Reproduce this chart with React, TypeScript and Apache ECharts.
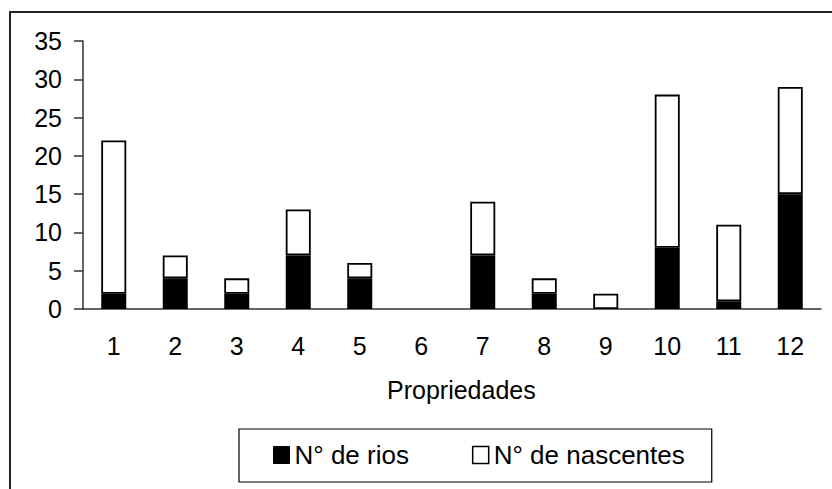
import React, { useEffect, useRef } from "react";
import * as echarts from "echarts";

const categories = ["1", "2", "3", "4", "5", "6", "7", "8", "9", "10", "11", "12"];
const rios = [2, 4, 2, 7, 4, 0, 7, 2, 0, 8, 1, 15];
const nascentes = [20, 3, 2, 6, 2, 0, 7, 2, 2, 20, 10, 14];
const seriesNames = ["N° de rios", "N° de nascentes"];
const xAxisTitle = "Propriedades";

const FONT = "'Liberation Sans', Arial, sans-serif";

const hideZero = (arr: number[]) => arr.map((v) => (v === 0 ? "-" : v));

export default function App() {
  const ref = useRef<HTMLDivElement>(null);
  useEffect(() => {
    if (!ref.current) return;
    const chart = echarts.init(ref.current, null, { renderer: "svg" });
    chart.setOption({
      animation: false,
      backgroundColor: "#fff",
      textStyle: { fontFamily: FONT },
      grid: { left: 83, right: 11, top: 41, bottom: 180, containLabel: false },
      xAxis: {
        type: "category",
        data: categories,
        axisLine: { lineStyle: { color: "#333", width: 1.5 } },
        axisTick: { length: 8, lineStyle: { color: "#333", width: 1.5 } },
        axisLabel: { fontSize: 25, color: "#000", margin: 24, fontFamily: FONT },
      },
      yAxis: {
        type: "value",
        min: 0,
        max: 35,
        interval: 5,
        splitLine: { show: false },
        axisLine: { show: true, lineStyle: { color: "#333", width: 1.5 } },
        axisTick: { show: true, length: 9, lineStyle: { color: "#333", width: 1.5 } },
        axisLabel: { fontSize: 25, color: "#000", margin: 21, fontFamily: FONT },
      },
      legend: {
        left: 239,
        top: 429,
        orient: "horizontal",
        padding: [13, 27, 14, 34],
        itemGap: 63,
        itemWidth: 16,
        itemHeight: 17,
        borderColor: "#000",
        borderWidth: 1.2,
        textStyle: { fontSize: 26, color: "#000", fontFamily: FONT },
        data: [
          { name: seriesNames[0], icon: "rect", itemStyle: { color: "#000", borderColor: "#000", borderWidth: 1 } },
          { name: seriesNames[1], icon: "rect", itemStyle: { color: "#fff", borderColor: "#000", borderWidth: 1.5 } },
        ],
      },
      graphic: [
        {
          type: "rect",
          z: -10,
          silent: true,
          shape: { x: 10, y: 12, width: 840, height: 500 },
          style: { fill: "none", stroke: "#222", lineWidth: 2 },
        },
        {
          type: "text",
          left: 387,
          top: 377,
          style: { text: xAxisTitle, fontSize: 25, fill: "#000", fontFamily: FONT },
        },
      ],
      series: [
        {
          name: seriesNames[0],
          type: "bar",
          stack: "total",
          barWidth: 25,
          data: hideZero(rios),
          itemStyle: { color: "#000", borderColor: "#000", borderWidth: 1.5 },
        },
        {
          name: seriesNames[1],
          type: "bar",
          stack: "total",
          barWidth: 25,
          data: hideZero(nascentes),
          itemStyle: { color: "#fff", borderColor: "#000", borderWidth: 1.8 },
        },
      ],
    });
    return () => chart.dispose();
  }, []);
  return <div ref={ref} style={{ width: 832, height: 489, position: "absolute", left: 0, top: 0 }} />;
}
